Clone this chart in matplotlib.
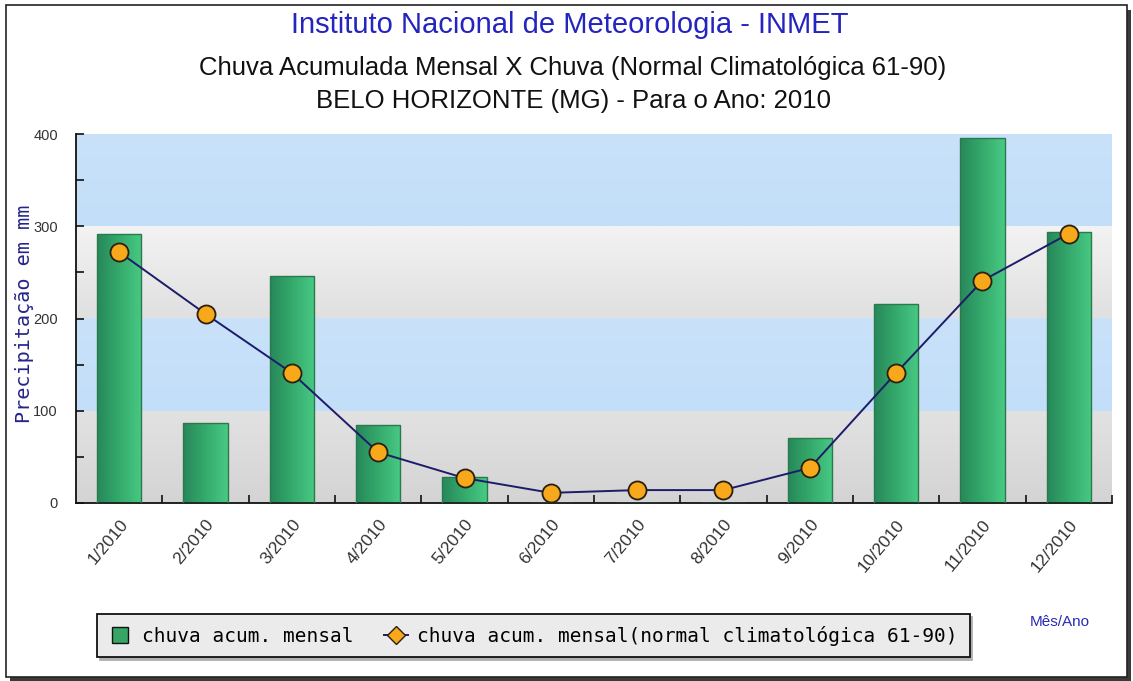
import numpy as np
import matplotlib
matplotlib.use("Agg")
import matplotlib.pyplot as plt
from matplotlib.colors import LinearSegmentedColormap
from matplotlib.patches import Rectangle
from matplotlib.lines import Line2D

# ---------------- data ----------------
months = ["1/2010", "2/2010", "3/2010", "4/2010", "5/2010", "6/2010",
          "7/2010", "8/2010", "9/2010", "10/2010", "11/2010", "12/2010"]
chuva_mensal = [292, 87, 246, 85, 28, 0, 0, 0, 70, 216, 396, 294]
chuva_normal = [272, 205, 141, 55, 27, 11, 14, 14, 38, 141, 241, 292]
y_ticks = [0, 100, 200, 300, 400]

title = "Instituto Nacional de Meteorologia - INMET"
subtitle1 = "Chuva Acumulada Mensal X Chuva (Normal Climatológica 61-90)"
subtitle2 = "BELO HORIZONTE (MG) - Para o Ano: 2010"
ylabel = "Precipitação em mm"
xlabel = "Mês/Ano"
leg_bar = "chuva acum. mensal"
leg_line = "chuva acum. mensal(normal climatológica 61-90)"

W, H = 1133, 681
fig = plt.figure(figsize=(W / 100, H / 100), dpi=100)
fig.patch.set_facecolor("white")

def fx(x):
    return x / W

def fy(y):
    return 1 - y / H

# outer frame with shadow
fig.patches.append(Rectangle((fx(10), fy(681)), fx(1131) - fx(10), fy(10) - fy(681),
                             transform=fig.transFigure, facecolor="#3a3a3a",
                             edgecolor="none", zorder=-5))
fig.patches.append(Rectangle((fx(6), fy(677)), fx(1127) - fx(6), fy(5) - fy(677),
                             transform=fig.transFigure, facecolor="white",
                             edgecolor="#222222", lw=1.2, zorder=-4))

ax = fig.add_axes([fx(76), fy(503), fx(1112) - fx(76), fy(134) - fy(503)])
ax.set_facecolor("none")
x = np.arange(len(months))
xlim = (-0.5, len(months) - 0.5)
ylim = (y_ticks[0], y_ticks[-1])

# background bands with vertical gradient
band_styles = [("#d4d4d4", "#e2e2e2"), ("#c3def8", "#c9e2fa"),
               ("#e0e0e0", "#f3f3f3"), ("#c3def8", "#c9e2fa")]
for i in range(len(y_ticks) - 1):
    lo, hi = y_ticks[i], y_ticks[i + 1]
    c0, c1 = band_styles[i % len(band_styles)]
    cm = LinearSegmentedColormap.from_list("b%d" % i, [c0, c1])
    grad = np.linspace(0, 1, 64).reshape(-1, 1)
    ax.imshow(grad, extent=(xlim[0], xlim[1], lo, hi), origin="lower",
              cmap=cm, aspect="auto", zorder=0, interpolation="bilinear")

# bars with horizontal gradient
bars = ax.bar(x, chuva_mensal, width=0.51, facecolor="none",
              edgecolor="#2a7a4c", linewidth=1.0, zorder=3)
gcm = LinearSegmentedColormap.from_list("g", ["#27885a", "#35aa6c", "#48c984"])
hgrad = np.linspace(0, 1, 64).reshape(1, -1)
for b in bars:
    h = b.get_height()
    if h <= 0:
        continue
    im = ax.imshow(hgrad, extent=(b.get_x(), b.get_x() + b.get_width(), 0, h),
                   cmap=gcm, aspect="auto", zorder=2, interpolation="bilinear")
    im.set_clip_path(b)

# normal line
ax.plot(x, chuva_normal, color="#1c1c6a", lw=1.4, zorder=4,
        marker="o", markersize=13, markerfacecolor="#f7a81b",
        markeredgecolor="#2a2010", markeredgewidth=1.3)

ax.set_xlim(*xlim)
ax.set_ylim(*ylim)

# spines
for s in ["top", "right"]:
    ax.spines[s].set_visible(False)
for s in ["left", "bottom"]:
    ax.spines[s].set_color("#111111")
    ax.spines[s].set_linewidth(1.3)

# y ticks
ax.set_yticks(y_ticks)
ax.set_yticks(np.arange(y_ticks[0], y_ticks[-1], 50), minor=True)
ax.tick_params(axis="y", which="both", direction="in", length=6, width=1.2,
               color="#111111", pad=13)
for lab in ax.get_yticklabels():
    lab.set_fontfamily("Liberation Sans")
    lab.set_fontsize(10.5)
    lab.set_color("#333333")

# x ticks: labels at centers, tick marks at boundaries
ax.set_xticks(x)
ax.set_xticklabels(months, rotation=50, ha="right", rotation_mode="anchor",
                   fontsize=12.5, color="#333333", fontfamily="Liberation Sans")
ax.tick_params(axis="x", which="major", length=0, pad=10)
ax.set_xticks(np.arange(0.5, len(months) - 0.5 + 1e-9, 1.0), minor=True)
ax.tick_params(axis="x", which="minor", direction="in", length=6, width=1.2,
               color="#111111")

# titles
fig.text(fx(570), fy(25), title, ha="center", va="center",
         fontsize=21, color="#2424c0", fontfamily="Liberation Sans")
fig.text(fx(573), fy(68), subtitle1, ha="center", va="center",
         fontsize=18.5, color="#111111", fontfamily="Liberation Sans")
fig.text(fx(573), fy(101), subtitle2, ha="center", va="center",
         fontsize=18.5, color="#111111", fontfamily="Liberation Sans")

# y label
fig.text(fx(24), fy(314), ylabel, ha="center", va="center", rotation=90,
         fontsize=14.5, color="#25258a", fontfamily="DejaVu Sans Mono")

# x label
fig.text(fx(1060), fy(622), xlabel, ha="center", va="center",
         fontsize=11, color="#2a2ab4", fontfamily="Liberation Sans")

# legend
handles = [Line2D([0], [0], linestyle="none", marker="s", markersize=12,
                  markerfacecolor="#36a566", markeredgecolor="#111111",
                  markeredgewidth=1.0),
           Line2D([0], [0], color="#1c1c6a", lw=1.4, marker="D", markersize=9,
                  markerfacecolor="#f7a81b", markeredgecolor="#2a2010",
                  markeredgewidth=1.0)]
leg = fig.legend(handles, [leg_bar, leg_line], loc="upper left",
                 bbox_to_anchor=(fx(97), fy(614)), ncol=2, frameon=True,
                 fancybox=False, shadow={"color": "#b0b0b0", "alpha": 1.0},
                 edgecolor="#111111", facecolor="#ebebeb", framealpha=1,
                 prop={"family": "DejaVu Sans Mono", "size": 14},
                 borderaxespad=0, handlelength=1.2, handletextpad=0.5,
                 columnspacing=1.6, borderpad=0.6)
leg.get_frame().set_linewidth(1.3)

fig.savefig("out.png", dpi=100)
